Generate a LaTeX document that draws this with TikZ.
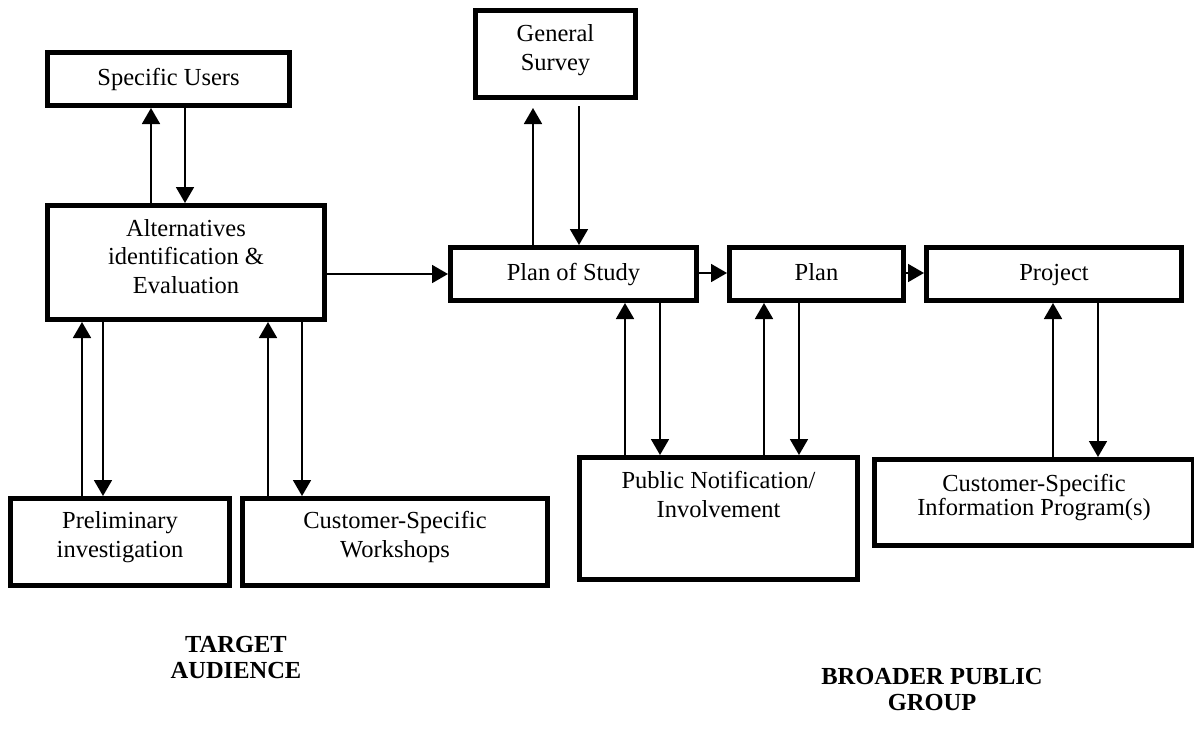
\documentclass[tikz,border=0pt]{standalone}
\usepackage{fontspec}
\setmainfont{Liberation Serif}
\usetikzlibrary{arrows.meta}
\begin{document}
\begin{tikzpicture}[x=1pt,y=-1pt,
  box/.style={draw, line width=5pt, inner sep=0pt, outer sep=2.5pt},
  lbl/.style={align=center, anchor=base, font=\fontsize{24.5}{28.5}\selectfont, inner sep=0pt},
  tight/.style={font=\fontsize{24.5}{23.5}\selectfont},
  head/.style={align=center, font=\fontsize{24.5}{26}\selectfont\bfseries, inner sep=0pt},
  link/.style={line width=1.8pt, -{Triangle[width=18pt,length=16pt]}},
]
\useasboundingbox (0,0) rectangle (1194,742);

% boxes
\node[box, minimum width=242pt, minimum height=53pt]  (su)   at (168.5,79)  {};
\node[box, minimum width=277pt, minimum height=114pt] (alt)  at (186,262.5) {};
\node[box, minimum width=160pt, minimum height=87pt]  (gs)   at (555.5,54)  {};
\node[box, minimum width=246pt, minimum height=53pt]  (pos)  at (573.5,274) {};
\node[box, minimum width=174pt, minimum height=53pt]  (plan) at (816.5,274) {};
\node[box, minimum width=255pt, minimum height=53pt]  (proj) at (1054,274)  {};
\node[box, minimum width=278pt, minimum height=122pt] (pn)   at (718.5,518.5) {};
\node[box, minimum width=219pt, minimum height=87pt]  (pre)  at (120,542)   {};
\node[box, minimum width=305pt, minimum height=87pt]  (csw)  at (395,542)   {};
\node[box, minimum width=319pt, minimum height=86pt]  (csi)  at (1034,502.5) {};

% box texts, placed by the baseline of their last line
\node[lbl] (tsu)   at (168.5,85)  {Specific Users};
\node[lbl] (talt)  at (186,293)   {Alternatives\\identification \&\\Evaluation};
\node[lbl] (tgs)   at (555.5,70)  {General\\Survey};
\node[lbl] (tpos)  at (573.5,280) {Plan of Study};
\node[lbl] (tplan) at (816.5,280) {Plan};
\node[lbl] (tproj) at (1054,280)  {Project};
\node[lbl] (tpn)   at (718.5,517) {Public Notification/\\Involvement};
\node[lbl] (tpre)  at (120,557)   {Preliminary\\investigation};
\node[lbl] (tcsw)  at (395,557)   {Customer-Specific\\Workshops};
\node[lbl, tight] (tcsi) at (1034,515) {Customer-Specific\\Information Program(s)};

% group headings
\node[head] (target)  at (236,657) {TARGET\\AUDIENCE};
\node[head] (broader) at (932,689) {BROADER PUBLIC\\GROUP};

% main flow
\draw[link] (alt.east |- 0,274) -- (pos.west |- 0,274);
\draw[link] (pos.east |- 0,273) -- (plan.west |- 0,273);
\draw[link] (plan.east |- 0,273) -- (proj.west |- 0,273);

% alternatives <-> specific users
\draw[link] (151,0 |- alt.north) -- (151,0 |- su.south);
\draw[link] (185,0 |- su.south) -- (185,0 |- alt.north);

% plan of study <-> general survey
\draw[link, shorten >=8pt] (533,0 |- pos.north) -- (533,0 |- gs.south);
\draw[link, shorten <=6pt] (579,0 |- gs.south) -- (579,0 |- pos.north);

% alternatives <-> preliminary investigation / workshops
\draw[link] (82,0 |- pre.north) -- (82,0 |- alt.south);
\draw[link] (103,0 |- alt.south) -- (103,0 |- pre.north);
\draw[link] (268,0 |- csw.north) -- (268,0 |- alt.south);
\draw[link] (302,0 |- alt.south) -- (302,0 |- csw.north);

% public notification <-> plan of study / plan
\draw[link] (625,0 |- pn.north) -- (625,0 |- pos.south);
\draw[link] (660,0 |- pos.south) -- (660,0 |- pn.north);
\draw[link] (764,0 |- pn.north) -- (764,0 |- plan.south);
\draw[link] (799,0 |- plan.south) -- (799,0 |- pn.north);

% information programs <-> project
\draw[link] (1053,0 |- csi.north) -- (1053,0 |- proj.south);
\draw[link] (1098,0 |- proj.south) -- (1098,0 |- csi.north);
\end{tikzpicture}
\end{document}
